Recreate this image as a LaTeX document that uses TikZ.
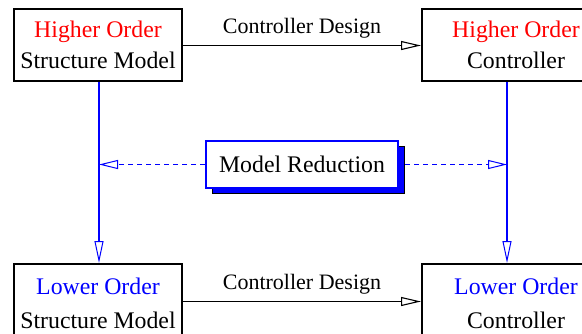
\documentclass[tikz,border=0pt]{standalone}
\usepackage{fontspec}
\setmainfont{Liberation Serif}
\usetikzlibrary{arrows.meta,shadows,calc}
\definecolor{pureblue}{RGB}{0,0,255}
\definecolor{purered}{RGB}{255,0,0}
\begin{document}
\begin{tikzpicture}[x=1pt,y=-1pt,
  box/.style={draw=black,line width=2pt,fill=white,align=center,inner sep=0pt,
    font=\rmfamily\fontsize{23.8}{31}\selectfont},
  conn/.style={draw=black,line width=1.1pt,-{Triangle[open,length=20pt,width=9pt]}},
  bconn/.style={draw=pureblue,color=pureblue,line width=1.2pt,-{Triangle[open,length=22pt,width=9pt,line width=1pt]}},
  dconn/.style={draw=pureblue,color=pureblue,line width=1.2pt,dash pattern=on 5pt off 4pt,-{Triangle[open,length=19pt,width=9pt,line width=1pt]}},
  lbl/.style={font=\rmfamily\fontsize{22}{26}\selectfont}]
\useasboundingbox (0,0) rectangle (582,333);
\clip (0,0) rectangle (582,333);
\node[box,minimum width=168pt,minimum height=72pt] (hm) at (98,45)
  {\textcolor{purered}{Higher Order}\\Structure Model};
\node[box,minimum width=188pt,minimum height=72pt] (hc) at (516,45)
  {\textcolor{purered}{Higher Order}\\Controller};
\node[box,minimum width=168pt,minimum height=78pt,font=\rmfamily\fontsize{23.8}{34}\selectfont] (lm) at (98,303)
  {\textcolor{pureblue}{Lower Order}\\Structure Model};
\node[box,minimum width=188pt,minimum height=78pt,font=\rmfamily\fontsize{23.8}{34}\selectfont] (lc) at (516,303)
  {\textcolor{pureblue}{Lower Order}\\Controller};
\node[draw=pureblue,line width=2pt,fill=white,minimum width=192pt,minimum height=47pt,
  inner sep=0pt,font=\rmfamily\fontsize{23.8}{28}\selectfont,
  drop shadow={fill=pureblue,draw=black,line width=1pt,shadow xshift=6pt,shadow yshift=-5pt,opacity=1}]
  (mr) at (302,164.5) {Model Reduction};
\draw[conn] ([yshift=-0.5pt]hm.east) -- node[lbl,above=3pt] {Controller Design} ([yshift=-0.5pt]hc.west);
\draw[conn] ([yshift=1.5pt]lm.east) -- node[lbl,above=3pt] {Controller Design} ([yshift=1.5pt]lc.west);
\draw[bconn] ([xshift=1pt]hm.south) -- ([xshift=1pt]lm.north);
\draw[bconn] ([xshift=-9pt]hc.south) -- ([xshift=-9pt]lc.north);
\coordinate (lt) at ($(mr.west -| hm.south)+(1pt,0)$);
\coordinate (rt) at ($(mr.east -| hc.south)+(-9pt,0)$);
\draw[dconn] (mr.west) -- (lt);
\draw[dconn] ([xshift=6pt]mr.east) -- (rt);
\end{tikzpicture}
\end{document}
